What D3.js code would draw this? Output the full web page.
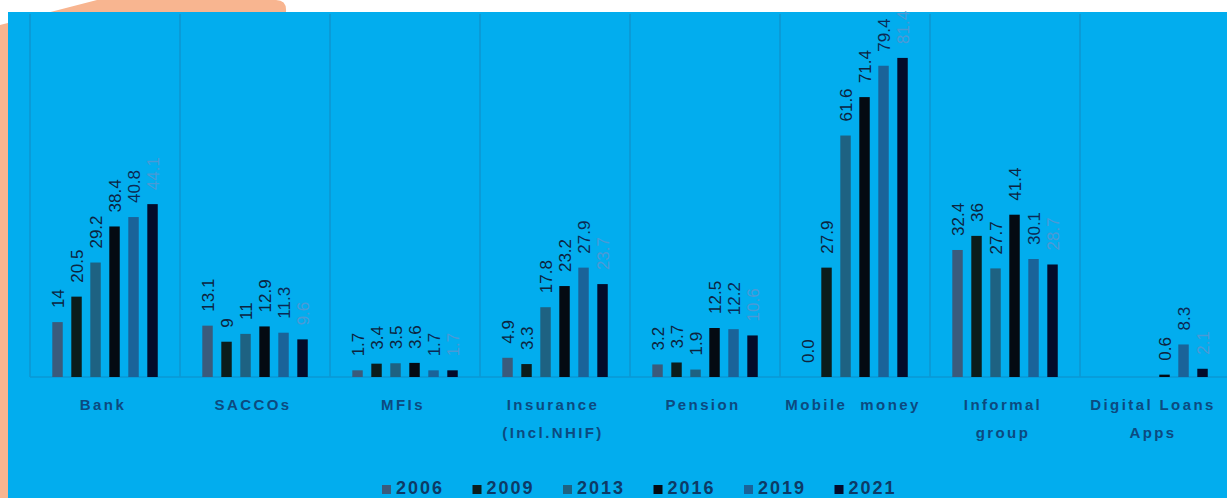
<!DOCTYPE html>
<html>
<head>
<meta charset="utf-8">
<script src="https://cdn.jsdelivr.net/npm/d3@7"></script>
<style>
  html, body { margin: 0; padding: 0; background: #ffffff; }
  svg { display: block; }
  text { font-family: "Liberation Sans", Arial, sans-serif; }
</style>
</head>
<body>
<svg id="chart" width="1227" height="498"></svg>
<script>
const categories = ["Bank", "SACCOs", "MFIs", "Insurance (Incl.NHIF)", "Pension", "Mobile money", "Informal group", "Digital Loans Apps"];
const categoryLines = [["Bank"], ["SACCOs"], ["MFIs"], ["Insurance", "(Incl.NHIF)"], ["Pension"], ["Mobile  money"], ["Informal", "group"], ["Digital Loans", "Apps"]];
const years = ["2006", "2009", "2013", "2016", "2019", "2021"];
const v2006 = [14, 13.1, 1.7, 4.9, 3.2, 0.0, 32.4, null];
const v2009 = [20.5, 9, 3.4, 3.3, 3.7, 27.9, 36, null];
const v2013 = [29.2, 11, 3.5, 17.8, 1.9, 61.6, 27.7, null];
const v2016 = [38.4, 12.9, 3.6, 23.2, 12.5, 71.4, 41.4, 0.6];
const v2019 = [40.8, 11.3, 1.7, 27.9, 12.2, 79.4, 30.1, 8.3];
const v2021 = [44.1, 9.6, 1.7, 23.7, 10.6, 81.4, 28.7, 2.1];
const valueLabels = {
  "2006": ["14", "13.1", "1.7", "4.9", "3.2", "0.0", "32.4", null],
  "2009": ["20.5", "9", "3.4", "3.3", "3.7", "27.9", "36", null],
  "2013": ["29.2", "11", "3.5", "17.8", "1.9", "61.6", "27.7", null],
  "2016": ["38.4", "12.9", "3.6", "23.2", "12.5", "71.4", "41.4", "0.6"],
  "2019": ["40.8", "11.3", "1.7", "27.9", "12.2", "79.4", "30.1", "8.3"],
  "2021": ["44.1", "9.6", "1.7", "23.7", "10.6", "81.4", "28.7", "2.1"]
};
const seriesValues = [v2006, v2009, v2013, v2016, v2019, v2021];
const barColors = ["#3a5b7c", "#0b1d1c", "#1e6282", "#040a12", "#1a6399", "#030b2b"];
const labelColors = ["#0d2440", "#0d2440", "#0d2440", "#0d2440", "#0b2a55", "#4a9ad6"];

const svg = d3.select("#chart");

// decorative peach shape and blue panel
svg.append("path")
  .attr("d", "M0,25 L97,0 L276,0 Q287,0 286,12 L286,498 L0,498 Z")
  .attr("fill", "#f8b590");
svg.append("rect")
  .attr("x", 8).attr("y", 12).attr("width", 1227 - 8).attr("height", 498 - 12)
  .attr("fill", "#02adee");

const baseY = 377;
const x0 = d3.scaleBand().domain(categories).range([30, 1230]).paddingInner(0).paddingOuter(0);
const x1 = d3.scaleBand().domain(years).range([22.3, 22.3 + 105.45]).paddingInner(0.45).paddingOuter(0);
const y = d3.scaleLinear().domain([0, 90]).range([baseY, baseY - 90 * 3.92]);

// vertical separators
const bounds = categories.map(c => x0(c)).concat([x0(categories[categories.length - 1]) + x0.bandwidth()]);
svg.append("g").selectAll("line").data(bounds).join("line")
  .attr("x1", d => d).attr("x2", d => d)
  .attr("y1", 14).attr("y2", baseY)
  .attr("stroke", "#0a9bd7").attr("stroke-width", 2);

// baseline
svg.append("line")
  .attr("x1", 30).attr("x2", 1227).attr("y1", baseY).attr("y2", baseY)
  .attr("stroke", "#0a98d4").attr("stroke-width", 1.5);

// bars and labels
years.forEach((yr, si) => {
  const data = categories.map((c, ci) => ({ c, v: seriesValues[si][ci], lab: valueLabels[yr][ci] }))
    .filter(d => d.v !== null);
  const g = svg.append("g");
  g.selectAll("rect").data(data).join("rect")
    .attr("x", d => x0(d.c) + x1(yr))
    .attr("y", d => y(d.v))
    .attr("width", x1.bandwidth())
    .attr("height", d => baseY - y(d.v))
    .attr("fill", barColors[si]);
  g.selectAll("text").data(data).join("text")
    .attr("transform", d => {
      const cx = x0(d.c) + x1(yr) + x1.bandwidth() / 2 + 6;
      const cy = y(d.v) - 14;
      return `translate(${cx},${cy}) rotate(-90)`;
    })
    .attr("text-anchor", "start")
    .attr("font-size", 17)
    .attr("fill", labelColors[si])
    .text(d => d.lab);
});

// category labels
const catG = svg.append("g");
categories.forEach((c, ci) => {
  const t = catG.append("text")
    .attr("x", x0(c) + x0.bandwidth() / 2)
    .attr("y", 410)
    .attr("text-anchor", "middle")
    .attr("font-size", 15)
    .attr("font-weight", "bold")
    .attr("letter-spacing", 2.4)
    .attr("fill", "#0c4a80")
    .style("white-space", "pre");
  categoryLines[ci].forEach((ln, li) => {
    t.append("tspan")
      .attr("x", x0(c) + x0.bandwidth() / 2 - 2)
      .attr("y", 410 + li * 28)
      .text(ln);
  });
});

// legend
const legend = svg.append("g");
years.forEach((yr, i) => {
  const lx = 382 + i * 90.5;
  legend.append("rect")
    .attr("x", lx).attr("y", 485).attr("width", 9).attr("height", 9)
    .attr("fill", barColors[i]);
  legend.append("text")
    .attr("x", lx + 14).attr("y", 494)
    .attr("font-size", 18)
    .attr("font-weight", "bold")
    .attr("letter-spacing", 2)
    .attr("fill", "#0d3a66")
    .text(yr);
});
</script>
</body>
</html>
